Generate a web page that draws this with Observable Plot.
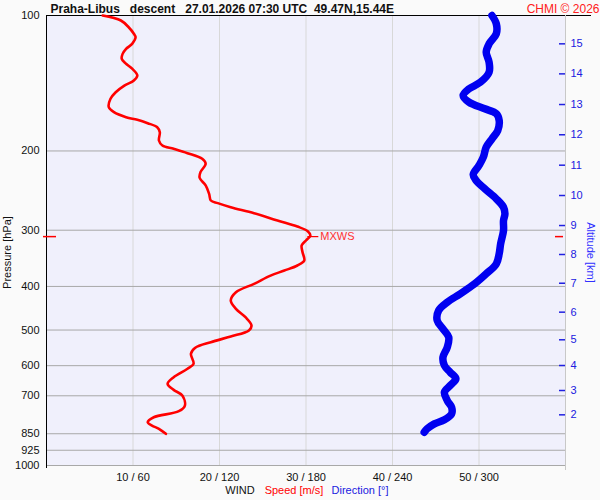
<!DOCTYPE html>
<html>
<head>
<meta charset="utf-8">
<script src="https://cdn.jsdelivr.net/npm/d3@7"></script>
<script src="https://cdn.jsdelivr.net/npm/@observablehq/plot@0.6"></script>
<style>
  html, body { margin: 0; padding: 0; background: #fafafa; }
  svg text { white-space: pre; }
</style>
</head>
<body>
<div id="chart"></div>
<script>
// ---- data ----
const titleText = "Praha-Libus   descent   27.01.2026 07:30 UTC  49.47N,15.44E";
const creditText = "CHMI © 2026";

// wind speed profile (m/s) vs pressure (hPa)
const speedP = [100,102.6,106.2,109.8,111.7,115.6,118.6,121.7,124.8,128.0,131.3,135.9,139.5,143.1,148.1,153.1,159.9,164.0,168.3,170.5,173.5,177.1,181.7,189.6,194.5,197.8,202.3,208.2,213.6,222.9,229.4,238.6,249.0,257.7,261.2,266.7,275.0,285.5,294.4,301.5,308.3,316.2,324.4,335.7,350.3,359.4,368.8,378.4,394.7,412.0,429.9,448.6,468.3,488.6,501.2,516.8,532.1,547.6,564.8,594.3,609.7,636.6,658.5,679.1,699.1,735.9,757.5,781.2,801.5,815.1,828.9,850.5];
const speed = [6.5,8.6,9.5,10.1,10.3,9.9,9.2,8.8,8.7,9.2,9.9,10.5,10.1,9.0,8.0,7.4,7.2,7.8,9.2,10.5,11.7,12.8,13.1,13.0,13.4,14.7,16.3,18.0,18.4,17.8,17.7,18.4,18.8,19.0,19.8,21.3,24.0,26.7,29.0,30.2,30.5,30.0,29.5,29.6,29.8,29.0,27.5,25.9,24.0,21.9,21.3,21.9,23.0,23.7,23.4,21.3,19.0,17.2,16.7,17.0,16.3,14.7,14.0,14.7,15.7,16.0,15.3,12.4,11.7,12.2,13.0,13.8];

// wind direction profile (deg) vs pressure (hPa)
const dirP = [100,104.3,109.8,115.6,120.6,127.0,133.7,140.7,145.6,150.6,155.8,161.2,165.3,171.2,180.2,187.9,196.2,206.5,215.4,225.6,232.6,242.7,255.5,266.7,275.9,285.5,300.5,321.6,338.5,356.3,375.0,394.7,415.4,433.6,452.4,476.2,497.0,518.7,545.9,574.6,599.5,620.4,641.7,664.2,687.4,717.2,742.1,767.6,791.5,808.0,828.9,843.5];
const direction = [309,312,312,307,305,307,307,301,293,289,293,304,312,314,313,309,305,303,300,296,298,304,312,317,318,317,317,315,314,312,305,297,287,278,272,271,275,279,278,275,276,280,284,280,276,278,281,281,276,269,264,262];

// maximum wind
const mxwsP = 310;
const mxwsSpeed = 30.5;
const mxwsLabel = "MXWS";

// axes
const pressureTicks = [100,200,300,400,500,600,700,850,925,1000];
const speedTicks = [10,20,30,40,50];
const xTickLabels = ["10 / 60","20 / 120","30 / 180","40 / 240","50 / 300"];
const altKm = [15,14,13,12,11,10,9,8,7,6,5,4,3,2];
const altP = [115.6,134.8,157.7,184.1,215.1,251.2,292.9,339.7,393.5,456.3,525.6,599.5,681.3,771.6];

// ---- tables built from the arrays ----
const speedData = speedP.map((p, i) => ({p, s: speed[i]}));
const dirData = dirP.map((p, i) => ({p, d: direction[i]}));
const altData = altP.map((p, i) => ({p, km: altKm[i]}));
const mxws = [{p: mxwsP, s: mxwsSpeed}];
const SPEED_PER_DEG = 60 / 360; // direction axis shares x: 0-360 deg over 0-60 m/s

const RED = "#ff0000";
const BLUE = "#0000f0";
const AXBLUE = "#2020e0";

const chart = Plot.plot({
  width: 600,
  height: 500,
  marginLeft: 46,
  marginRight: 35,
  marginTop: 15,
  marginBottom: 35,
  style: {background: "#fafafa", fontFamily: "'Liberation Sans', Arial, sans-serif", fontSize: "11px", overflow: "visible"},
  x: {domain: [0, 60], axis: null},
  y: {type: "log", domain: [100, 1000], reverse: true, axis: null},
  marks: [
    Plot.frame({fill: "#f0f0fc", stroke: null}),
    Plot.ruleX(speedTicks, {stroke: "#d8d8d8"}),
    Plot.ruleY(pressureTicks.slice(1), {stroke: "#a8a8a8"}),
    Plot.ruleY([pressureTicks[0]], {stroke: "#000", insetRight: -26}),
    Plot.ruleX([0], {stroke: "#000", insetBottom: -3}),
    Plot.ruleX([60], {stroke: "#c8c8c8", insetBottom: -5}),
    // left axis labels
    Plot.text(pressureTicks, {y: d => d, text: d => String(d), frameAnchor: "left", textAnchor: "end", dx: -7, fill: "#111"}),
    Plot.text(["Pressure [hPa]"], {frameAnchor: "left", textAnchor: "middle", lineAnchor: "middle", rotate: -90, dx: -39, dy: 12, fill: "#111"}),
    // bottom labels
    Plot.text(speedTicks, {x: d => d, text: (d, i) => xTickLabels[i], frameAnchor: "bottom", dy: 15, fill: "#111"}),
    Plot.text(["WIND"], {frameAnchor: "bottom", dx: -66, dy: 28, fill: "#111"}),
    Plot.text(["Speed [m/s]"], {frameAnchor: "bottom", dx: -12, dy: 28, fill: RED}),
    Plot.text(["Direction [°]"], {frameAnchor: "bottom", dx: 54, dy: 28, fill: AXBLUE}),
    // right altitude axis
    Plot.tickY(altData, {y: "p", stroke: AXBLUE, strokeWidth: 1.5, insetLeft: 513}),
    Plot.text(altData, {y: "p", text: "km", frameAnchor: "right", textAnchor: "start", dx: 5, fill: AXBLUE}),
    Plot.text(["Altitude [km]"], {frameAnchor: "right", textAnchor: "middle", lineAnchor: "middle", rotate: 90, dx: 25, dy: 12, fill: "#3030ff"}),
    // title & credit
    Plot.text([titleText], {frameAnchor: "top-left", textAnchor: "start", dx: 4, dy: -11, fontWeight: "bold", fontSize: 12, fill: "#111"}),
    Plot.text([creditText], {frameAnchor: "top-right", textAnchor: "end", dx: 34, dy: -11.5, fontSize: 12, fill: "#ff2020"}),
    // wind direction
    Plot.line(dirData, {x: d => d.d * SPEED_PER_DEG, y: "p", stroke: BLUE, strokeWidth: 7.5, strokeLinecap: "round", strokeLinejoin: "round", curve: "catmull-rom"}),
    // wind speed
    Plot.line(speedData, {x: "s", y: "p", stroke: RED, strokeWidth: 2.6, curve: "catmull-rom"}),
    // MXWS markers
    Plot.tickY(mxws, {y: "p", stroke: RED, strokeWidth: 1.5, insetLeft: -3, insetRight: 509}),
    Plot.tickY(mxws, {y: "p", stroke: RED, strokeWidth: 1.5, insetLeft: 509, insetRight: 2}),
    Plot.dot(mxws, {x: "s", y: "p", dx: 2, r: 6, stroke: RED, fill: "none", strokeWidth: 1.2,
      symbol: {draw(ctx) { ctx.moveTo(-5, 0); ctx.lineTo(6, 0); }}}),
    Plot.text(mxws, {x: "s", y: "p", text: () => mxwsLabel, dx: 10, textAnchor: "start", fill: "#ff3030"})
  ]
});
document.getElementById("chart").appendChild(chart);
</script>
</body>
</html>
